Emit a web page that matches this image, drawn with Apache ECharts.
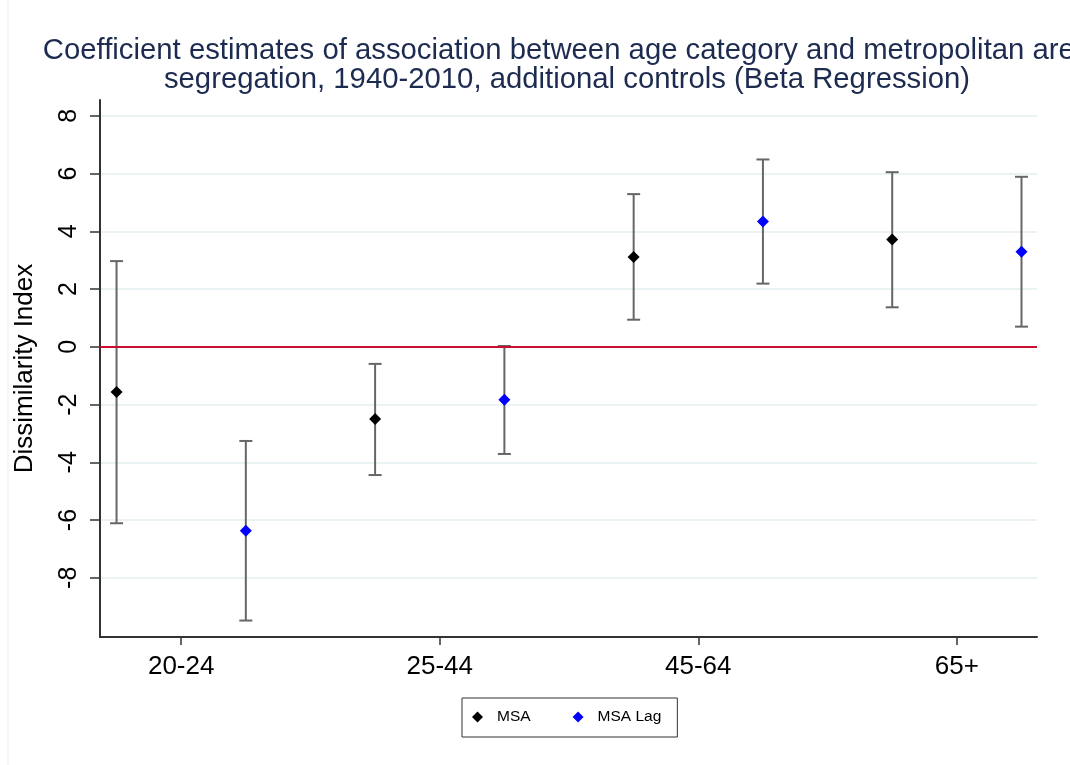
<!doctype html>
<html>
<head>
  <meta charset="utf-8">
  <title>beta regression coefficients</title>
  <script src="https://cdn.jsdelivr.net/npm/echarts@6/dist/echarts.min.js"></script>
  <style>
    html, body { margin: 0; padding: 0; background: #fff; }
    #main { width: 1070px; height: 765px; }
  </style>
</head>
<body>
  <div id="main"></div>
<script>
// age categories on the x axis
var categories = ['20-24', '25-44', '45-64', '65+'];
var yTicks = [-8, -6, -4, -2, 0, 2, 4, 6, 8];

// MSA estimates and 95% interval
var msaEst  = [-1.56, -2.50, 3.11, 3.72];
var msaLow  = [-6.11, -4.44, 0.94, 1.37];
var msaHigh = [2.97, -0.59, 5.29, 6.05];

// MSA Lag estimates and interval
var lagEst  = [-6.37, -1.83, 4.34, 3.29];
var lagLow  = [-9.48, -3.71, 2.19, 0.70];
var lagHigh = [-3.26, 0.03, 6.49, 5.89];

var offset = 0.25;

function points(est, shift) {
  return est.map(function (v, i) { return [i + 1 + shift, v]; });
}
function bars(low, high, shift) {
  return low.map(function (v, i) { return [i + 1 + shift, v, high[i]]; });
}

function renderBar(params, api) {
  var x = api.value(0);
  var lo = api.coord([x, api.value(1)]);
  var hi = api.coord([x, api.value(2)]);
  var cap = 6.5;
  var st = { stroke: '#666666', lineWidth: 2 };
  return {
    type: 'group',
    children: [
      { type: 'line', shape: { x1: lo[0], y1: lo[1], x2: hi[0], y2: hi[1] }, style: st },
      { type: 'line', shape: { x1: lo[0] - cap, y1: lo[1], x2: lo[0] + cap, y2: lo[1] }, style: st },
      { type: 'line', shape: { x1: hi[0] - cap, y1: hi[1], x2: hi[0] + cap, y2: hi[1] }, style: st }
    ]
  };
}

var font = 'Liberation Sans, Arial, Helvetica, sans-serif';
var chart = echarts.init(document.getElementById('main'), null, { renderer: 'canvas' });

var option = {
  backgroundColor: '#ffffff',
  animation: false,
  graphic: [
    {
      type: 'text', x: 567, y: 36,
      style: {
        text: 'Coefficient estimates of association between age category and metropolitan area\nsegregation, 1940-2010, additional controls (Beta Regression)',
        fill: '#1c2b4f', font: '29.3px ' + font, textAlign: 'center', lineHeight: 29
      }
    },
    {
      type: 'line', shape: { x1: 8, y1: 0, x2: 8, y2: 765 },
      style: { stroke: '#eeeeee', lineWidth: 1 }
    }
  ],
  grid: { left: 100, right: 33, top: 100, bottom: 128 },
  legend: {
    left: 462, top: 698,
    padding: [11, 16, 12, 10],
    borderColor: '#333333', borderWidth: 1,
    icon: 'diamond', itemWidth: 11, itemHeight: 11, itemGap: 42,
    textStyle: { fontFamily: font, fontSize: 15.5, color: '#000', padding: [0, 0, 0, 9] },
    data: ['MSA', 'MSA Lag']
  },
  xAxis: {
    type: 'value', min: 0.686, max: 4.31,
    axisLine: { show: true, onZero: false, lineStyle: { color: '#333', width: 2 } },
    axisTick: { show: true, length: 8, customValues: [1, 2, 3, 4], lineStyle: { color: '#333', width: 1.5 } },
    axisLabel: {
      customValues: [1, 2, 3, 4], margin: 17,
      fontFamily: font, fontSize: 26, color: '#000',
      formatter: function (v) { return categories[Math.round(v) - 1]; }
    },
    splitLine: { show: false }
  },
  yAxis: {
    type: 'value', min: -10.05, max: 8.55,
    name: 'Dissimilarity Index', nameLocation: 'middle', nameGap: 62,
    nameTextStyle: { fontFamily: font, fontSize: 26, color: '#000' },
    axisLine: { show: true, lineStyle: { color: '#333', width: 2 } },
    axisTick: { show: true, length: 10, customValues: yTicks, lineStyle: { color: '#333', width: 1.5 } },
    axisLabel: {
      customValues: yTicks, rotate: 90, margin: 18,
      fontFamily: font, fontSize: 25, color: '#000'
    },
    splitLine: { show: true, lineStyle: { color: '#eaf2f3', width: 2 } }
  },
  series: [
    {
      name: 'zero', type: 'line', data: [], silent: true,
      markLine: {
        silent: true, symbol: 'none', label: { show: false },
        lineStyle: { color: '#c8102e', width: 2, type: 'solid' },
        data: [{ yAxis: 0 }]
      }
    },
    { type: 'custom', renderItem: renderBar, data: bars(msaLow, msaHigh, -offset), z: 3 },
    { type: 'custom', renderItem: renderBar, data: bars(lagLow, lagHigh, offset), z: 3 },
    {
      name: 'MSA', type: 'scatter', symbol: 'diamond', symbolSize: 12,
      itemStyle: { color: '#000000', opacity: 1 }, data: points(msaEst, -offset), z: 5
    },
    {
      name: 'MSA Lag', type: 'scatter', symbol: 'diamond', symbolSize: 12,
      itemStyle: { color: '#0000ff', opacity: 1 }, data: points(lagEst, offset), z: 5
    }
  ]
};
chart.setOption(option);
</script>
</body>
</html>
